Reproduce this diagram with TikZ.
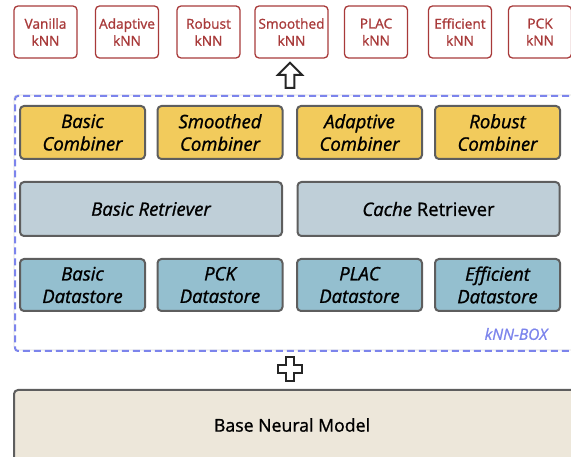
\documentclass[tikz,border=0pt]{standalone}
\usepackage{fontspec}
\setmainfont{Open Sans}
\newfontfamily\medfont{Open Sans}[FakeBold=1.2,ItalicFeatures={FakeBold=1.2}]
\usetikzlibrary{positioning, shapes.arrows}

\definecolor{knnred}{HTML}{A83A3A}
\definecolor{combfill}{HTML}{F2CB5C}
\definecolor{retrfill}{HTML}{BFCFD8}
\definecolor{dsfill}{HTML}{94BFCF}
\definecolor{boxline}{HTML}{5E5E5E}
\definecolor{boxblue}{HTML}{7C84EC}
\definecolor{basefill}{HTML}{EDE7DA}

\begin{document}
\begin{tikzpicture}[x=1pt,y=-1pt,
  mv/.style={draw=knnred,text=knnred,rounded corners=4pt,line width=1.3pt,
    minimum width=63pt,minimum height=52pt,inner sep=0pt,align=center,
    font=\medfont\fontsize{13.7}{17}\selectfont},
  cv/.style={draw=boxline,fill=combfill,rounded corners=4pt,line width=2pt,
    minimum width=125pt,minimum height=53pt,inner sep=0pt,align=center,
    font=\medfont\fontsize{18.5}{22.5}\selectfont\itshape},
  rv/.style={cv,fill=retrfill,minimum width=262pt,minimum height=54pt},
  dv/.style={cv,fill=dsfill,minimum height=52pt}]
\useasboundingbox (0,0) rectangle (571,457);

% kNN models
\node[mv] (vanilla) at (45.5,32) {Vanilla\\kNN};
\node[mv] (adaptive) at (127,32) {Adaptive\\kNN};
\node[mv] (robust) at (208.5,32) {Robust\\kNN};
\node[mv,minimum width=73pt] (smoothed) at (291.5,32) {Smoothed\\kNN};
\node[mv] (plac) at (376,32) {PLAC\\kNN};
\node[mv] (efficient) at (460,32) {Efficient\\kNN};
\node[mv] (pck) at (540,32) {PCK\\kNN};

% the toolkit
\draw[black!15,line width=0.6pt,rounded corners=3pt] (14,95) rectangle (604,350);
\node[draw=boxblue,dash pattern=on 7pt off 4pt,line width=2pt,
  rounded corners=3pt,minimum width=590pt,minimum height=255pt,
  anchor=north west,inner sep=0pt] (box) at (14,95) {};
\node[text=boxblue,font=\medfont\fontsize{15.5}{18}\selectfont\itshape,anchor=east]
  (boxname) at (551,334) {kNN-BOX};

\node[cv] (bcomb) at (82.5,132.5) {Basic\\Combiner};
\node[cv] (scomb) at (220,132.5) {Smoothed\\Combiner};
\node[cv] (acomb) at (359.5,132.5) {Adaptive\\Combiner};
\node[cv] (rcomb) at (497.5,132.5) {Robust\\Combiner};

\node[rv] (bretr) at (151,209) {Basic Retriever};
\node[rv] (cretr) at (428.5,209) {Cache \upshape Retriever};

\node[dv] (bds) at (82.5,285) {Basic\\Datastore};
\node[dv] (pds) at (220,285) {PCK\\Datastore};
\node[dv] (lds) at (359.5,285) {PLAC\\Datastore};
\node[dv] (eds) at (497.5,285) {Efficient\\Datastore};

% base model
\node[draw=boxline,fill=basefill,rounded corners=4pt,line width=2pt,
  minimum width=600pt,minimum height=90pt,anchor=north west,inner sep=0pt]
  (base) at (13,389) {};
\node[font=\medfont\fontsize{17.7}{22}\selectfont] (basename) at (292,425) {Base Neural Model};

% arrow and plus
\node[single arrow,draw=black!85,line width=2pt,fill=white,
  shape border rotate=90,minimum height=25pt,minimum width=24pt,
  single arrow head extend=6pt,inner sep=2.5pt] (up) at (290,77.5) {};
\coordinate (plus) at (290,369);
\draw[black!85,line width=2pt,fill=white] (plus) ++(-4,-12) -- ++(8,0) -- ++(0,8)
  -- ++(8,0) -- ++(0,8) -- ++(-8,0) -- ++(0,8) -- ++(-8,0) -- ++(0,-8)
  -- ++(-8,0) -- ++(0,-8) -- ++(8,0) -- cycle;
\end{tikzpicture}
\end{document}
